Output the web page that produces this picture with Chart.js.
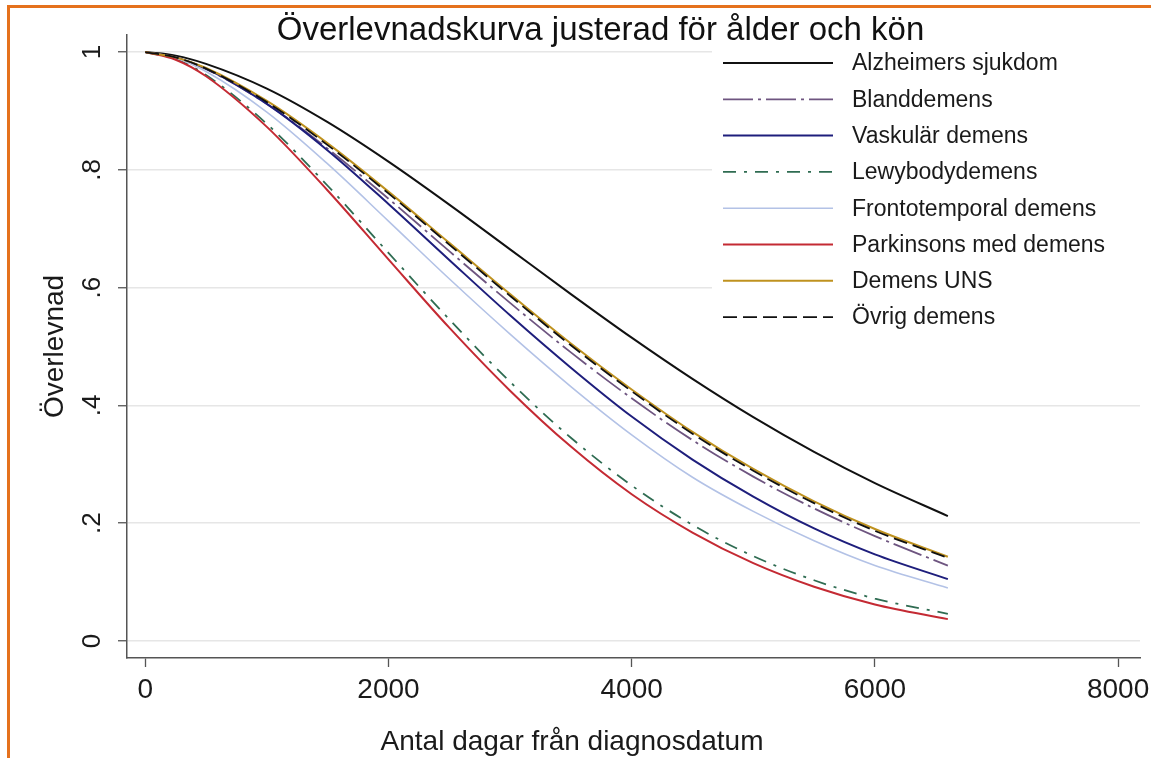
<!DOCTYPE html>
<html>
<head>
<meta charset="utf-8">
<title>Överlevnadskurva</title>
<script src="https://cdn.jsdelivr.net/npm/chart.js@4.4.1/dist/chart.umd.min.js"></script>
<style>
  html, body { margin: 0; padding: 0; background: #ffffff; }
  #wrap { position: relative; width: 1151px; height: 758px; overflow: hidden; }
  #frame {
    position: absolute; left: 7px; top: 5px; right: 0; bottom: 0;
    border-left: 3px solid #e5711d; border-top: 3px solid #e5711d;
    pointer-events: none;
  }
</style>
</head>
<body>
<div id="wrap">
  <canvas id="chart" width="1151" height="758"></canvas>
  <div id="frame"></div>
</div>
<script>
// Days since diagnosis at which each adjusted survival curve is sampled
const days = [0, 250, 500, 1000, 1500, 2000, 2500, 3000, 3500, 4000, 4500, 5000, 5500, 6000, 6600];

// Adjusted survival (proportion alive) per diagnosis group
const alzheimer      = [1, 0.994, 0.980, 0.938, 0.881, 0.814, 0.741, 0.665, 0.589, 0.515, 0.445, 0.380, 0.321, 0.268, 0.212];
const blanddemens    = [1, 0.991, 0.971, 0.912, 0.836, 0.751, 0.662, 0.574, 0.490, 0.412, 0.341, 0.279, 0.225, 0.178, 0.128];
const vaskular       = [1, 0.991, 0.972, 0.912, 0.833, 0.742, 0.647, 0.553, 0.464, 0.381, 0.308, 0.245, 0.191, 0.147, 0.105];
const lewybody       = [1, 0.988, 0.961, 0.878, 0.773, 0.659, 0.546, 0.440, 0.345, 0.264, 0.197, 0.144, 0.103, 0.072, 0.046];
const frontotemporal = [1, 0.990, 0.967, 0.898, 0.810, 0.713, 0.615, 0.521, 0.432, 0.350, 0.278, 0.220, 0.170, 0.128, 0.090];
const parkinson      = [1, 0.987, 0.959, 0.873, 0.765, 0.648, 0.532, 0.425, 0.330, 0.249, 0.184, 0.132, 0.092, 0.062, 0.037];
const demensUNS      = [1, 0.991, 0.973, 0.917, 0.845, 0.763, 0.676, 0.589, 0.505, 0.427, 0.355, 0.292, 0.237, 0.190, 0.143];
const ovrigDemens    = [1, 0.991, 0.972, 0.915, 0.842, 0.760, 0.673, 0.586, 0.502, 0.424, 0.352, 0.289, 0.234, 0.187, 0.141];

const seriesLabels = [
  'Alzheimers sjukdom', 'Blanddemens', 'Vaskulär demens', 'Lewybodydemens',
  'Frontotemporal demens', 'Parkinsons med demens', 'Demens UNS', 'Övrig demens'
];
const seriesValues = [alzheimer, blanddemens, vaskular, lewybody, frontotemporal, parkinson, demensUNS, ovrigDemens];

// Axis ticks
const xTickValues = [0, 2000, 4000, 6000, 8000];
const xTickLabels = ['0', '2000', '4000', '6000', '8000'];
const yTickValues = [0, 0.2, 0.4, 0.6, 0.8, 1];
const yTickLabels = ['0', '.2', '.4', '.6', '.8', '1'];

const FONT = "'Liberation Sans', Arial, Helvetica, sans-serif";

// Line appearance per group (same order as seriesLabels)
const lineStyles = [
  { color: '#111111', width: 2,   dash: [] },
  { color: '#6e5580', width: 1.8, dash: [30, 5, 3, 5] },
  { color: '#1e1e7c', width: 2,   dash: [] },
  { color: '#2f6c52', width: 1.8, dash: [13, 8, 3, 8] },
  { color: '#b3c2e6', width: 1.6, dash: [] },
  { color: '#c42a33', width: 2,   dash: [] },
  { color: '#bf921f', width: 2,   dash: [] },
  { color: '#111111', width: 1.8, dash: [14, 6] }
];

const datasets = seriesLabels.map((label, i) => ({
  label,
  data: days.map((d, j) => ({ x: d, y: seriesValues[i][j] })),
  borderColor: lineStyles[i].color,
  borderWidth: lineStyles[i].width,
  borderDash: lineStyles[i].dash,
  pointRadius: 0,
  fill: false,
  cubicInterpolationMode: 'monotone',
  order: seriesLabels.length - i   // later groups are drawn on top
}));

// Legend placed inside the plot region, top right, on a white panel
const insideLegend = {
  id: 'insideLegend',
  afterDatasetsDraw(chart) {
    const { ctx, chartArea } = chart;
    const x0 = chartArea.left + 596, x1 = chartArea.left + 706, tx = chartArea.left + 725;
    const y0 = chartArea.top + 28, dy = 36.3;
    ctx.save();
    ctx.fillStyle = '#ffffff';
    ctx.fillRect(chartArea.left + 585, chartArea.top + 10, chartArea.right - chartArea.left - 585, 292);
    chart.data.datasets.forEach((ds, i) => {
      const y = y0 + i * dy;
      ctx.strokeStyle = ds.borderColor;
      ctx.lineWidth = ds.borderWidth;
      ctx.setLineDash(ds.borderDash || []);
      ctx.beginPath();
      ctx.moveTo(x0, y);
      ctx.lineTo(x1, y);
      ctx.stroke();
      ctx.setLineDash([]);
      ctx.fillStyle = '#1a1a1a';
      ctx.font = '23px ' + FONT;
      ctx.textAlign = 'left';
      ctx.textBaseline = 'middle';
      ctx.fillText(ds.label, tx, y + 1);
    });
    ctx.restore();
  }
};

// X-axis title, set slightly left of the plot centre
const xAxisTitle = {
  id: 'xAxisTitle',
  afterDraw(chart) {
    const { ctx, chartArea } = chart;
    ctx.save();
    ctx.fillStyle = '#1a1a1a';
    ctx.font = '28px ' + FONT;
    ctx.textAlign = 'center';
    ctx.textBaseline = 'alphabetic';
    ctx.fillText('Antal dagar från diagnosdatum', chartArea.left + 445, 750);
    ctx.restore();
  }
};

new Chart(document.getElementById('chart'), {
  type: 'line',
  data: { datasets },
  plugins: [insideLegend, xAxisTitle],
  options: {
    responsive: false,
    devicePixelRatio: 1,
    animation: false,
    layout: { padding: { left: 61, right: 11, top: 0, bottom: 0 } },
    plugins: {
      legend: { display: false },
      tooltip: { enabled: false },
      title: {
        display: true,
        text: 'Överlevnadskurva justerad för ålder och kön',
        color: '#111111',
        font: { family: FONT, size: 33, weight: 'normal' },
        padding: { top: 11, bottom: -15.6 }
      }
    },
    scales: {
      x: {
        type: 'linear',
        min: -150,
        max: 8180,
        afterBuildTicks: s => { s.ticks = xTickValues.map(v => ({ value: v })); },
        afterFit: s => { s.height = 100; s.paddingLeft = 0; s.paddingRight = 0; },
        ticks: {
          autoSkip: false, maxRotation: 0, padding: 6,
          color: '#1a1a1a',
          font: { family: FONT, size: 28 },
          callback: (v, i) => xTickLabels[i]
        },
        grid: { drawOnChartArea: false, drawTicks: true, tickLength: 9, tickColor: '#555555', tickWidth: 1.3 },
        border: { display: true, color: '#555555', width: 1.5 },
        title: { display: false }
      },
      y: {
        type: 'linear',
        min: -0.029,
        max: 1.029,
        afterBuildTicks: s => { s.ticks = yTickValues.map(v => ({ value: v })); },
        afterFit: s => { s.width = 66; s.paddingTop = 0; s.paddingBottom = 0; },
        ticks: {
          autoSkip: false, minRotation: 90, maxRotation: 90, crossAlign: 'center', padding: 14,
          color: '#1a1a1a',
          font: { family: FONT, size: 26 },
          callback: (v, i) => yTickLabels[i]
        },
        grid: { color: '#e6e6e6', lineWidth: 1.5, drawTicks: true, tickLength: 9, tickColor: '#555555', tickWidth: 1.3 },
        border: { display: true, color: '#555555', width: 1.5 },
        title: {
          display: true,
          text: 'Överlevnad',
          color: '#1a1a1a',
          font: { family: FONT, size: 28 },
          padding: { top: -22.8, bottom: 0 }
        }
      }
    }
  }
});
</script>
</body>
</html>
